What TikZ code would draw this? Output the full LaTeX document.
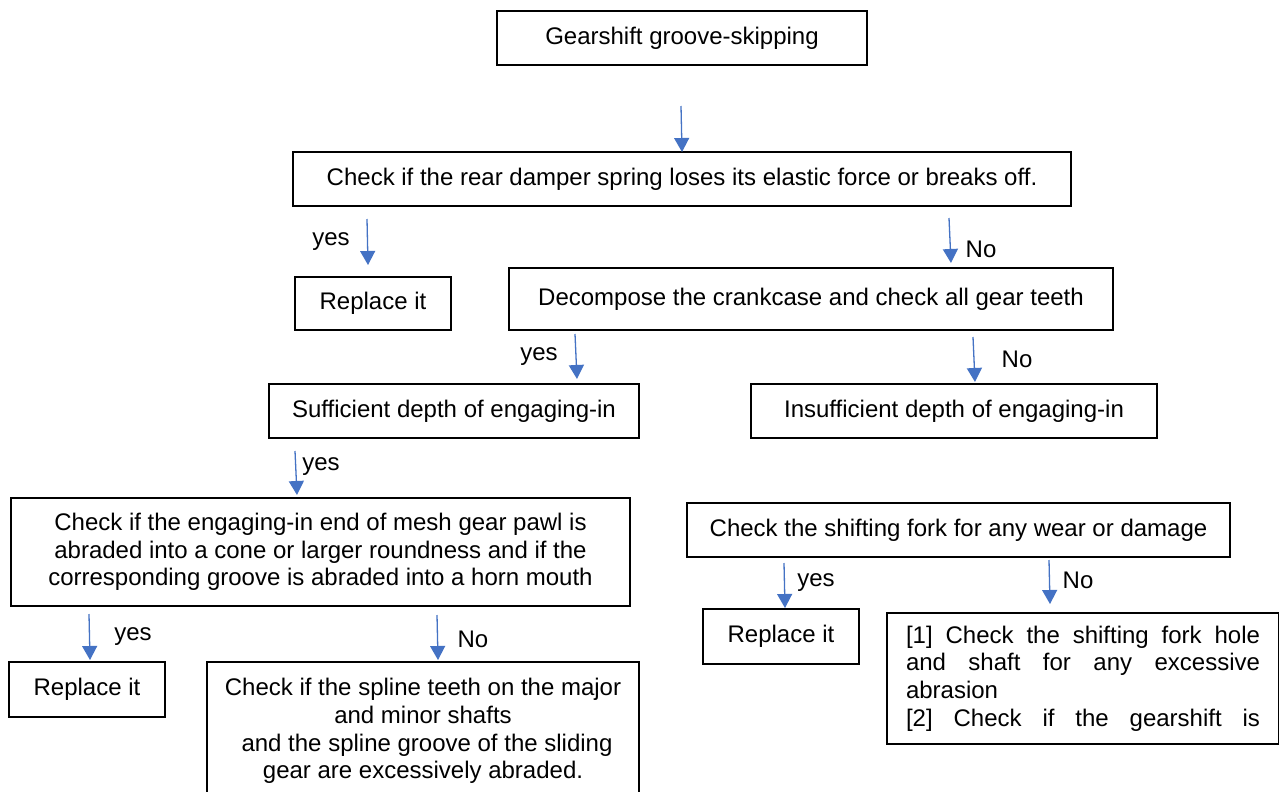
\documentclass[tikz,border=0pt]{standalone}
\usepackage{fontspec}
\setmainfont{Liberation Sans}
\usetikzlibrary{arrows.meta}
\definecolor{arrowblue}{HTML}{4472C4}
\newcommand{\fs}{\fontsize{24pt}{27.6pt}\selectfont}
\newcommand{\jline}[1]{\leavevmode\hbox to 354pt{#1}}
\begin{document}
\begin{tikzpicture}[x=1pt,y=-1pt,
  box/.style={draw=black, line width=1.1pt, inner sep=0pt, font=\fs, align=center},
  lbl/.style={inner sep=0pt, font=\fs},
  arr/.style={draw=arrowblue, line width=1.3pt, -{Triangle[width=15pt,length=14pt]}}]
\useasboundingbox (0,0) rectangle (1279,792);
\clip (0,0) rectangle (1279,792);
\fill[white] (0,0) rectangle (1279,792);

% boxes
\node[box, minimum width=370pt, minimum height=54pt] (top) at (682,38) {Gearshift groove-skipping};
\node[box, minimum width=778pt, minimum height=54pt] (damper) at (682,179) {Check if the rear damper spring loses its elastic force or breaks off.};
\node[box, minimum width=156pt, minimum height=53pt] (rep1) at (373,303.5) {Replace it};
\node[box, minimum width=604pt, minimum height=62pt] (decomp) at (811,299) {Decompose the crankcase and check all gear teeth};
\node[box, minimum width=370pt, minimum height=54pt] (suff) at (454,411) {Sufficient depth of engaging-in};
\node[box, minimum width=406pt, minimum height=54pt] (insuff) at (954,411) {Insufficient depth of engaging-in};
\node[box, minimum width=619pt, minimum height=108pt] (engage) at (320.5,552) {Check if the engaging-in end of mesh gear pawl is\\abraded into a cone or larger roundness and if the\\corresponding groove is abraded into a horn mouth};
\node[box, minimum width=543pt, minimum height=54pt] (fork) at (958.5,530) {Check the shifting fork for any wear or damage};
\node[box, minimum width=156pt, minimum height=55pt] (rep2) at (781,636.5) {Replace it};
\node[box, minimum width=156pt, minimum height=55pt] (rep3) at (87,689.5) {Replace it};
\node[box, minimum width=432pt, minimum height=138pt] (spline) at (423,731) {Check if the spline teeth on the major\\and minor shafts\\\hspace*{8pt}and the spline groove of the sliding\\gear are excessively abraded.};
\node[box, minimum width=392pt, minimum height=131pt, align=left, text width=354pt] (hole) at (1083,678.5) {\jline{[1]\hfill Check\hfill the\hfill shifting\hfill fork\hfill hole}\\\jline{and\hfill shaft\hfill for\hfill any\hfill excessive}\\abrasion\\\jline{[2]\hfill Check\hfill if\hfill the\hfill gearshift\hfill is}};

% arrow end points
\coordinate (a1s) at (681,106);  \coordinate (a1e) at (682,152);
\coordinate (a2s) at (367,219);  \coordinate (a2e) at (368,265);
\coordinate (a3s) at (949,218);  \coordinate (a3e) at (951,263);
\coordinate (a4s) at (575,334);  \coordinate (a4e) at (577,379);
\coordinate (a5s) at (973,337);  \coordinate (a5e) at (975,382);
\coordinate (a6s) at (295,451);  \coordinate (a6e) at (297,495);
\coordinate (a7s) at (89,614);   \coordinate (a7e) at (90,660);
\coordinate (a8s) at (437,615);  \coordinate (a8e) at (438,660);
\coordinate (a9s) at (784,563);  \coordinate (a9e) at (785,608);
\coordinate (a10s) at (1049,560); \coordinate (a10e) at (1050,604);

\draw[arr] (a1s) -- (a1e);
\draw[arr] (a2s) -- (a2e);
\draw[arr] (a3s) -- (a3e);
\draw[arr] (a4s) -- (a4e);
\draw[arr] (a5s) -- (a5e);
\draw[arr] (a6s) -- (a6e);
\draw[arr] (a7s) -- (a7e);
\draw[arr] (a8s) -- (a8e);
\draw[arr] (a9s) -- (a9e);
\draw[arr] (a10s) -- (a10e);

% labels
\node[lbl] (l2) at (331,242) {yes};
\node[lbl] (l3) at (981,249) {No};
\node[lbl] (l4) at (539,357) {yes};
\node[lbl] (l5) at (1017,359) {No};
\node[lbl] (l6) at (321,467) {yes};
\node[lbl] (l7) at (133,637) {yes};
\node[lbl] (l8) at (473,639) {No};
\node[lbl] (l9) at (816,583) {yes};
\node[lbl] (l10) at (1078,580) {No};
\end{tikzpicture}
\end{document}
